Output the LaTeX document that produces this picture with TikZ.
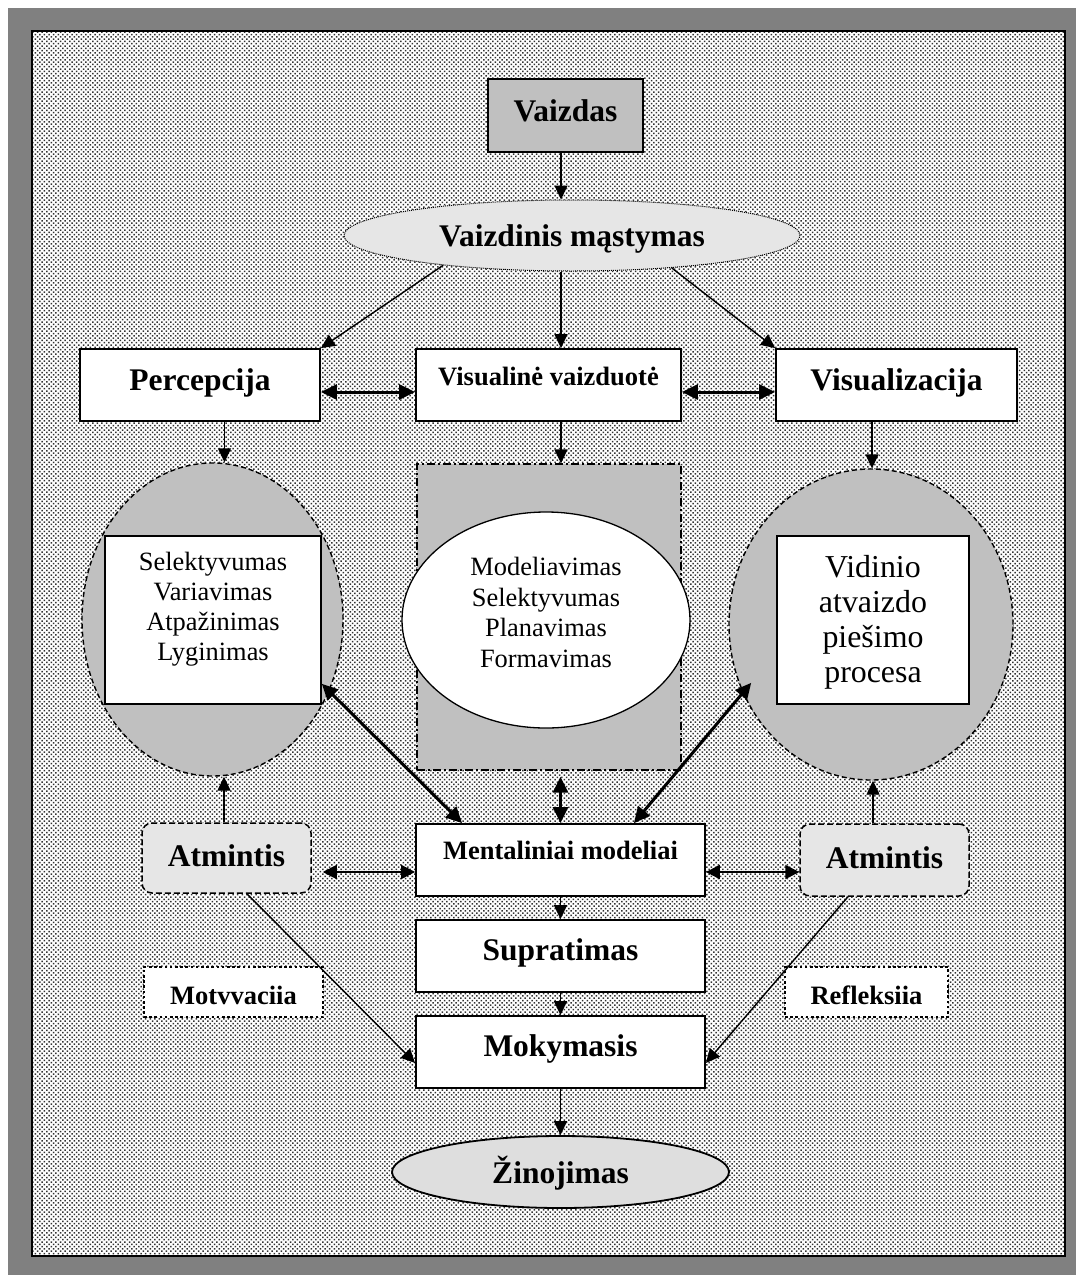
\documentclass[tikz,border=0pt]{standalone}
\usepackage{fontspec}
\setmainfont{Liberation Serif}
\usetikzlibrary{arrows.meta,shapes.geometric,patterns,calc}

\definecolor{framegray}{HTML}{808080}
\definecolor{silver}{HTML}{C0C0C0}
\definecolor{pale}{HTML}{E6E6E6}
\definecolor{zinfill}{HTML}{DEDEDE}

% dotted screen used as the page background
\pgfdeclarepatternformonly{screendots}{\pgfqpoint{-1pt}{-1pt}}{\pgfqpoint{6pt}{6pt}}{\pgfqpoint{4.6pt}{4.6pt}}{%
  \pgfpathrectangle{\pgfqpoint{0pt}{0pt}}{\pgfqpoint{1.5pt}{1.5pt}}%
  \pgfpathrectangle{\pgfqpoint{2.3pt}{2.3pt}}{\pgfqpoint{1.5pt}{1.5pt}}%
  \pgfusepath{fill}}

\newcommand\lblBig{\fontsize{31.5}{36}\selectfont\bfseries}
\newcommand\lblMid{\fontsize{26.5}{30}\selectfont\bfseries}

\begin{document}
\begin{tikzpicture}[x=1pt,y=-1pt,
  every node/.style={inner sep=0pt},
  solidbox/.style={draw, line width=1.8pt, fill=white},
  arr/.style={-{Triangle[length=14pt,width=13pt]}, line width=1.4pt},
  darr/.style={{Triangle[length=14pt,width=14pt]}-{Triangle[length=14pt,width=14pt]}, line width=2pt},
  tarr/.style={{Triangle[length=16pt,width=15pt]}-{Triangle[length=16pt,width=15pt]}, line width=3pt},
  oval/.style={ellipse, draw, line width=1.4pt, dash pattern=on 5pt off 3pt, fill=silver},
  memory/.style={draw, rounded corners=10pt, line width=1.5pt, dash pattern=on 6pt off 3pt, fill=pale},
  note/.style={draw, line width=2.6pt, dash pattern=on 2.6pt off 2.6pt, fill=white}]

\useasboundingbox (0,0) rectangle (1076,1275);

% frame and dotted page
\fill[white] (0,0) rectangle (1076,1275);
\fill[framegray] (8,8) rectangle (1076,1275);
\fill[white] (32,31) rectangle (1065,1256);
\fill[pattern=screendots, pattern color=black!80] (32,31) rectangle (1065,1256);
\draw[line width=2pt] (32,31) rectangle (1065,1256);

% top
\node[solidbox, fill=silver, minimum width=155pt, minimum height=73pt,
      text height=22pt, text depth=11pt] (vaizdas) at (565.5,115.5) {\lblBig Vaizdas};
\node[ellipse, draw, line width=1pt, dash pattern=on 1pt off 1pt, fill=pale,
      minimum width=456pt, minimum height=71pt, text height=22pt, text depth=0pt]
      (vm) at (572,235.5) {\lblBig Vaizdinis mąstymas};

% second row
\node[solidbox, minimum width=240pt, minimum height=72pt, text height=22pt, text depth=12pt]
      (perc) at (200,385) {\lblBig Percepcija};
\node[solidbox, minimum width=265pt, minimum height=72pt, text height=14pt, text depth=14pt]
      (vis) at (548.5,385) {\lblMid Visualinė vaizduotė};
\node[solidbox, minimum width=241pt, minimum height=72pt, text height=22pt, text depth=12pt]
      (visz) at (896.5,385) {\lblBig Visualizacija};

% process areas
\node[oval, minimum width=261pt, minimum height=313pt] (lov) at (212.5,619.5) {};
\node[oval, minimum width=284pt, minimum height=311pt] (rov) at (871,624.5) {};
\node[draw, line width=1.3pt, dash pattern=on 8pt off 3pt on 2pt off 3pt, fill=silver,
      minimum width=264pt, minimum height=306pt] (mr) at (549,617) {};

\node[solidbox, line width=1.6pt] (lbox) at (213,620)
  {\parbox[c][168pt][t]{216pt}{\centering\fontsize{26.4}{30}\selectfont
   \rule{0pt}{34pt}Selektyvumas\\ Variavimas\\ Atpažinimas\\ Lyginimas}};
\node[ellipse, draw, line width=1.3pt, fill=white, minimum width=288pt, minimum height=216pt]
  (mell) at (546,620)
  {\parbox[c][126pt][t]{160pt}{\centering\fontsize{26.4}{30.7}\selectfont
   \rule{0pt}{18pt}Modeliavimas\\ Selektyvumas\\ Planavimas\\ Formavimas}};
\node[solidbox, line width=1.6pt] (rbox) at (873,620)
  {\parbox[c][168pt][t]{192pt}{\centering\fontsize{31.9}{35}\selectfont
   \rule{0pt}{41pt}Vidinio\\ atvaizdo\\ piešimo\\ procesa}};

% lower column
\node[solidbox, minimum width=289pt, minimum height=72pt, text height=14pt, text depth=16pt]
      (ment) at (560.5,860) {\lblMid Mentaliniai modeliai};
\node[solidbox, minimum width=289pt, minimum height=72pt, text height=22pt, text depth=13pt]
      (sup) at (560.5,956) {\lblBig Supratimas};
\node[solidbox, minimum width=289pt, minimum height=72pt, text height=22pt, text depth=13pt]
      (mok) at (560.5,1052) {\lblBig Mokymasis};
\node[ellipse, draw, line width=1.8pt, fill=zinfill, minimum width=337pt, minimum height=72pt,
      text height=23pt, text depth=0pt] (zin) at (560.5,1172) {\lblBig Žinojimas};

\node[memory, minimum width=169pt, minimum height=70pt, text height=22pt, text depth=6pt]
      (atmL) at (226.5,858) {\lblBig Atmintis};
\node[memory, minimum width=169pt, minimum height=72pt, text height=22pt, text depth=6pt]
      (atmR) at (884.5,860) {\lblBig Atmintis};

\node[note, minimum width=179pt, minimum height=50pt, text height=24pt, text depth=0pt]
      (mot) at (233.5,992) {\lblMid Motvvaciia};
\node[note, minimum width=163pt, minimum height=50pt, text height=24pt, text depth=0pt]
      (ref) at (866.5,992) {\lblMid Refleksiia};

% connectors
\draw[arr] ([xshift=-4.5pt]vaizdas.south) -- ([xshift=-11pt]vm.north);
\draw[arr] (vm.193.7) -- (perc.north east);
\draw[arr] ([xshift=-11pt]vm.south) -- ([xshift=12.5pt]vis.north);
\draw[arr] (vm.342.5) -- (visz.north west);

\draw[tarr] ([yshift=-7pt]perc.east) -- ([yshift=-7pt]vis.west);
\draw[tarr] ([yshift=-7pt]vis.east) -- ([yshift=-7pt]visz.west);

\draw[arr] ([xshift=24.5pt]perc.south) -- ([xshift=24.5pt]perc.south |- lov.north);
\draw[arr] ([xshift=12.5pt]vis.south) -- ([xshift=12.5pt]vis.south |- mr.north);
\draw[arr] ([xshift=-24.5pt]visz.south) -- ([xshift=-24.5pt]visz.south |- rov.north);

\draw[tarr] ([yshift=21pt]lbox.south east) -- ([xshift=47pt]ment.north west);
\draw[tarr] ([xshift=-72pt]ment.north east) -- ([xshift=-25pt,yshift=22pt]rbox.south west);
\draw[tarr, shorten <=6pt] (mr.south -| ment.north) -- (ment.north);

\draw[darr] ([xshift=11pt,yshift=-14pt]atmL.east) -- ([yshift=-12pt]ment.west);
\draw[darr] ([yshift=-12pt]ment.east) -- ([yshift=-12pt]atmR.west);

\draw[arr] ([xshift=-2.5pt]atmL.north) -- ([xshift=-2.5pt]atmL.north |- lov.south);
\draw[arr] ([xshift=-11.5pt]atmR.north) -- ([xshift=-11.5pt]atmR.north |- rov.south);

\draw[arr] ([xshift=20.5pt]atmL.south) -- ([yshift=-11pt]mok.west);
\draw[arr] ([xshift=-36.5pt]atmR.south) -- ([yshift=-11pt]mok.east);

\draw[arr] (ment.south) -- (sup.north);
\draw[arr] (sup.south) -- (mok.north);
\draw[arr] (mok.south) -- (zin.north);
\end{tikzpicture}
\end{document}
